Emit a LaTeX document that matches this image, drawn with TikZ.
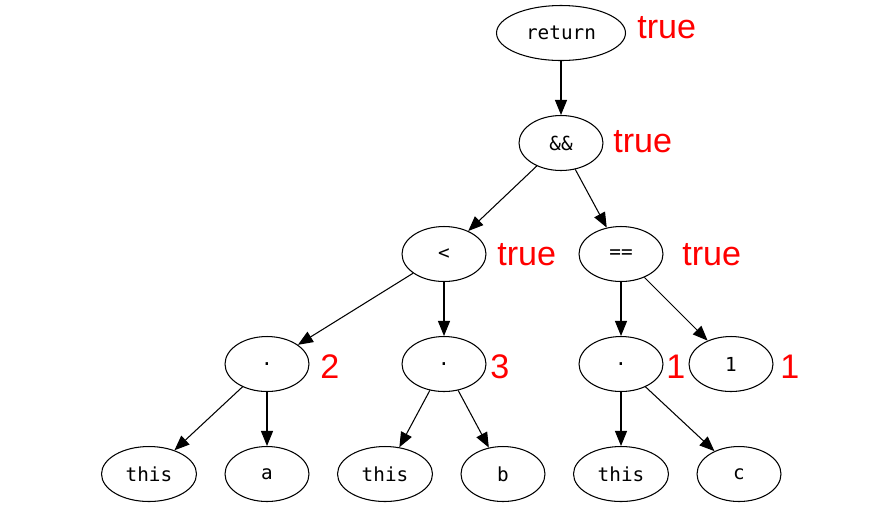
\documentclass[tikz,border=0pt]{standalone}
\usepackage{fontspec}
\setmainfont{Liberation Sans}
\setmonofont{DejaVu Sans Mono}
\usetikzlibrary{shapes.geometric,arrows.meta}
\tikzset{
  ast/.style={draw,ellipse,line width=0.6pt,minimum width=1.68cm,minimum height=1.1cm,
    inner sep=0pt,font=\ttfamily\fontsize{11}{13}\selectfont},
  astwide/.style={ast,minimum width=1.9cm},
  val/.style={anchor=west,inner sep=0pt,text=red,font=\fontsize{19.4}{22}\selectfont},
  tip/.style={-{Triangle[length=0.3cm,width=0.24cm]},line width=0.6pt}
}
\begin{document}
\begin{tikzpicture}[x=0.02cm,y=-0.02cm]
   \useasboundingbox (0,0) rectangle (871,515);
   % operators
   \node[ast,minimum width=2.58cm] (ret) at (561,33) {return};
   \node[ast] (and) at (561,143) {\&\&};
   \node[ast] (lt) at (444,254) {<};
   \node[ast] (eq) at (621,254) {==};
   % field accesses
   \node[ast] (dota) at (267,364) {.};
   \node[ast] (dotb) at (444,364) {.};
   \node[ast] (dotc) at (621,364) {.};
   \node[ast] (one) at (731,364) {1};
   % leaves
   \node[astwide] (thisa) at (149,474) {this};
   \node[ast] (a) at (267,474) {a};
   \node[astwide] (thisb) at (385,474) {this};
   \node[ast] (b) at (503,474) {b};
   \node[astwide] (thisc) at (621,474) {this};
   \node[ast] (c) at (739,474) {c};
   % values
   \node[val] (vret) at (637,28) {true};
   \node[val] (vand) at (613,142) {true};
   \node[val] (vlt) at (497,255) {true};
   \node[val] (veq) at (682,255) {true};
   \node[val] (vdota) at (320,367) {2};
   \node[val] (vdotb) at (490,367) {3};
   \node[val] (vdotc) at (666,367) {1};
   \node[val] (vone) at (780,367) {1};
   \path[tip] (ret) edge (and);
   \path[tip] (and) edge (lt);
   \path[tip] (and) edge (eq);
   \path[tip] (lt) edge (dota);
   \path[tip] (lt) edge (dotb);
   \path[tip] (eq) edge (dotc);
   \path[tip] (eq) edge (one);
   \path[tip] (dota) edge (thisa);
   \path[tip] (dota) edge (a);
   \path[tip] (dotb) edge (thisb);
   \path[tip] (dotb) edge (b);
   \path[tip] (dotc) edge (thisc);
   \path[tip] (dotc) edge (c);
\end{tikzpicture}
\end{document}
